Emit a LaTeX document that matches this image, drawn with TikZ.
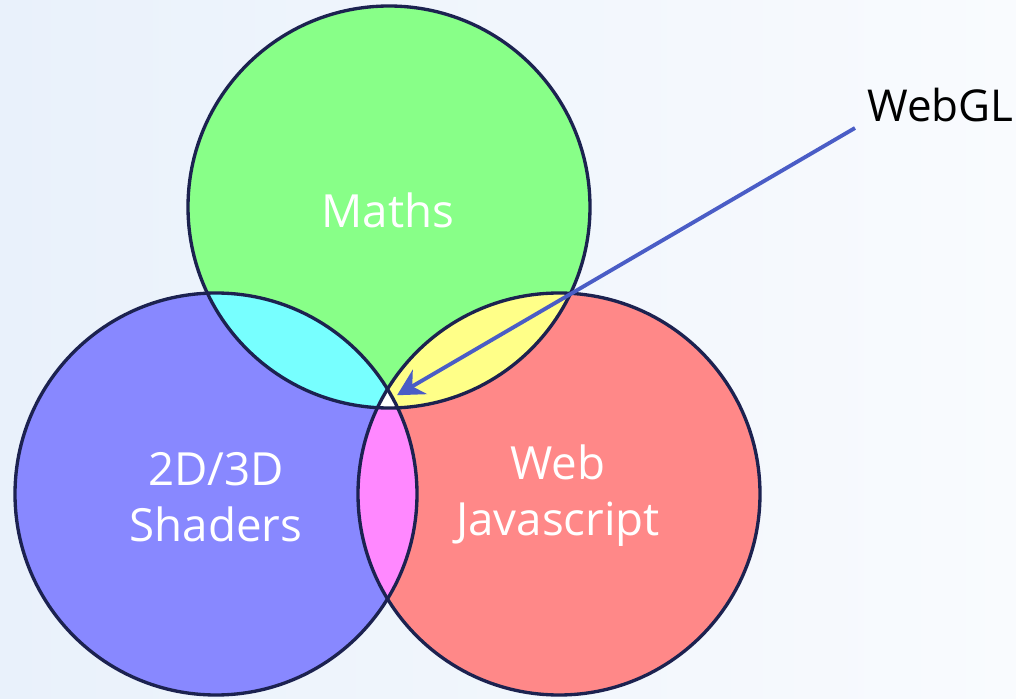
\documentclass[tikz,border=0pt]{standalone}
\usepackage{fontspec}
\setmainfont{Open Sans}
\newcommand{\labelfont}{\rmfamily}
\definecolor{VennGreen}{HTML}{88FF88}
\definecolor{VennBlue}{HTML}{8888FF}
\definecolor{VennRed}{HTML}{FF8888}
\definecolor{VennCyan}{HTML}{77FFFF}
\definecolor{VennYellow}{HTML}{FFFF88}
\definecolor{VennPink}{HTML}{FF88FF}
\definecolor{VennEdge}{HTML}{1C2250}
\definecolor{VennPointer}{HTML}{4A5DC6}
\definecolor{SlideTint}{HTML}{E9F1FB}
\definecolor{SlidePaper}{HTML}{F9FBFE}
\usetikzlibrary{arrows.meta}

\begin{document}
\begin{tikzpicture}[
        rim/.style={
            draw=VennEdge,
            line width=1.9pt
        },
        area/.style={
            text=white,
            align=center,
            font=\labelfont\fontsize{26}{32}\selectfont
        },
        callout/.style={
            text=black,
            anchor=base west,
            font=\labelfont\fontsize{25}{31}\selectfont
        },
        pointer/.style={
            -{Stealth[length=15pt,width=16pt,inset=5pt]},
            line width=2.2pt,
            draw=VennPointer,
            shorten >=2pt
        }
    ]
        \shade[left color=SlideTint, right color=SlidePaper]
            (0,0) rectangle (20.32,13.96);
        \useasboundingbox (0,0) rectangle (20.32,13.96);

        \coordinate (maths) at (7.78,9.82);
        \coordinate (gfx) at (4.32,4.08);
        \coordinate (web) at (11.18,4.08);
        \def\vennr{4.02}

        % plain discs
        \fill[VennGreen] (maths) circle (\vennr);
        \fill[VennBlue] (gfx) circle (\vennr);
        \fill[VennRed] (web) circle (\vennr);

        % pairwise overlaps
        \begin{scope}
            \clip (maths) circle (\vennr);
            \fill[VennCyan] (gfx) circle (\vennr);
            \fill[VennYellow] (web) circle (\vennr);
        \end{scope}
        \begin{scope}
            \clip (gfx) circle (\vennr);
            \fill[VennPink] (web) circle (\vennr);
            \clip (maths) circle (\vennr);
            \fill[white] (web) circle (\vennr);
        \end{scope}

        \draw[rim] (maths) circle (\vennr);
        \draw[rim] (gfx) circle (\vennr);
        \draw[rim] (web) circle (\vennr);

        \node[area] (mathslabel) at (7.76,9.76) {Maths};
        \node[area] (gfxlabel) at (4.32,4.02) {2D/3D\\Shaders};
        \node[area] (weblabel) at (11.16,4.04) {Web\\Javascript};

        \node[callout] (webgl) at (17.22,11.52) {WebGL};
        \coordinate (pointerstart) at (17.1,11.4);
        \coordinate (core) at (7.88,6.02);
        \draw[pointer] (pointerstart) -- (core);
    \end{tikzpicture}
\end{document}
